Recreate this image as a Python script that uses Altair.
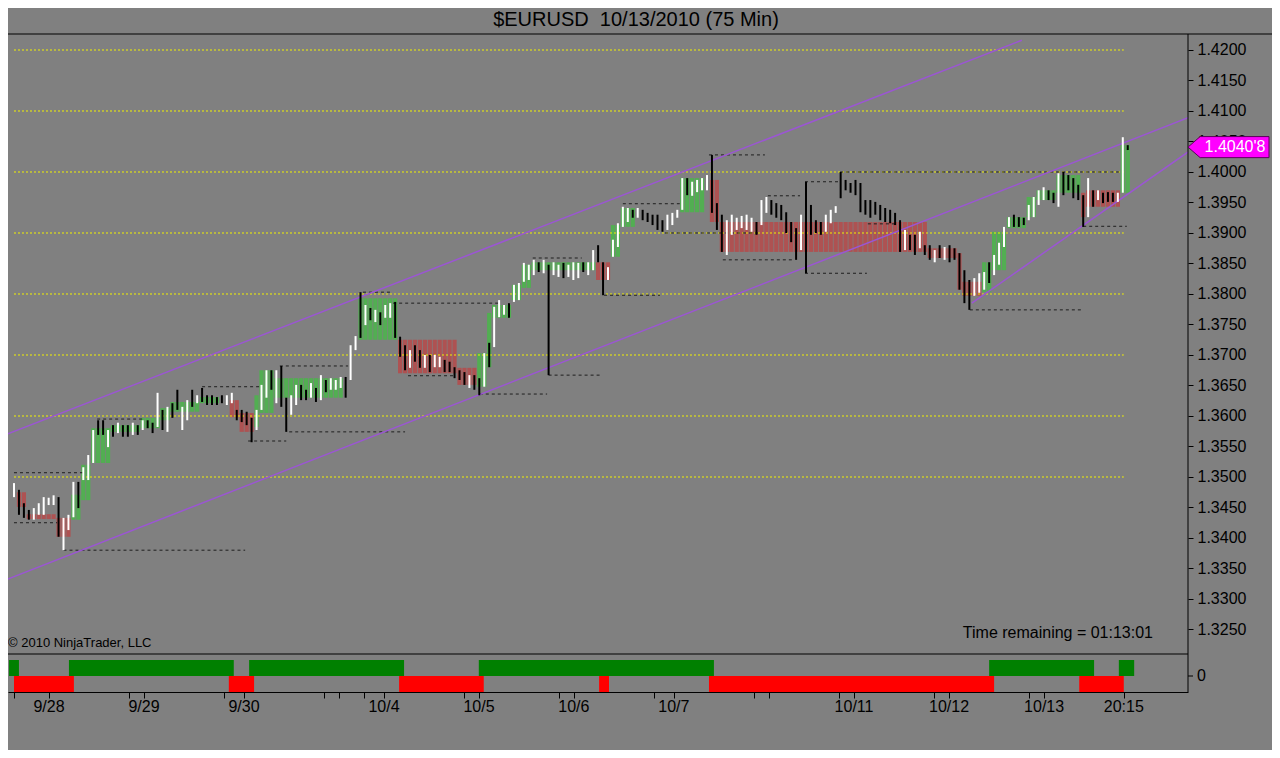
import altair as alt
import pandas as pd

FONT = "Liberation Sans"
TITLE = "$EURUSD\u00a0 10/13/2010 (75 Min)"

# ---- OHLC bars (75 min), one entry per bar ----
HIGH = [1.3490, 1.3479, 1.3457, 1.3446, 1.3449, 1.3457, 1.3467, 1.3466, 1.3470, 1.3467,
        1.3433, 1.3438, 1.3492, 1.3492, 1.3516, 1.3536, 1.3577, 1.3593, 1.3593, 1.3577,
        1.3585, 1.3589, 1.3585, 1.3585, 1.3589, 1.3585, 1.3593, 1.3593, 1.3589, 1.3638,
        1.3610, 1.3615, 1.3621, 1.3643, 1.3615, 1.3626, 1.3643, 1.3634, 1.3646, 1.3634,
        1.3634, 1.3631, 1.3634, 1.3634, 1.3638, 1.3610, 1.3610, 1.3607, 1.3597, 1.3610,
        1.3651, 1.3675, 1.3675, 1.3675, 1.3682, 1.3630, 1.3634, 1.3651, 1.3651, 1.3643,
        1.3654, 1.3646, 1.3667, 1.3659, 1.3662, 1.3659, 1.3664, 1.3664, 1.3716, 1.3731,
        1.3803, 1.3782, 1.3777, 1.3774, 1.3770, 1.3782, 1.3785, 1.3787, 1.3730, 1.3716,
        1.3708, 1.3716, 1.3708, 1.3700, 1.3700, 1.3700, 1.3697, 1.3692, 1.3689, 1.3680,
        1.3675, 1.3672, 1.3667, 1.3667, 1.3662, 1.3703, 1.3720, 1.3779, 1.3790, 1.3782,
        1.3785, 1.3815, 1.3818, 1.3851, 1.3848, 1.3856, 1.3852, 1.3856, 1.3848, 1.3852,
        1.3848, 1.3851, 1.3848, 1.3852, 1.3851, 1.3852, 1.3852, 1.3872, 1.3880, 1.3852,
        1.3844, 1.3889, 1.3916, 1.3943, 1.3941, 1.3938, 1.3941, 1.3938, 1.3933, 1.3930,
        1.3930, 1.3921, 1.3930, 1.3933, 1.3938, 1.3990, 1.3990, 1.3984, 1.3987, 1.3990,
        1.3995, 1.4028, 1.3949, 1.3930, 1.3921, 1.3930, 1.3925, 1.3928, 1.3930, 1.3925,
        1.3918, 1.3954, 1.3959, 1.3954, 1.3949, 1.3946, 1.3934, 1.3918, 1.3908, 1.3930,
        1.3984, 1.3946, 1.3921, 1.3918, 1.3930, 1.3938, 1.3944, 1.4000, 1.3987, 1.3982,
        1.3987, 1.3982, 1.3954, 1.3954, 1.3951, 1.3946, 1.3941, 1.3938, 1.3933, 1.3921,
        1.3905, 1.3897, 1.3897, 1.3902, 1.3880, 1.3880, 1.3872, 1.3880, 1.3877, 1.3880,
        1.3875, 1.3867, 1.3839, 1.3823, 1.3826, 1.3834, 1.3836, 1.3852, 1.3864, 1.3884,
        1.3910, 1.3926, 1.3930, 1.3926, 1.3925, 1.3946, 1.3959, 1.3970, 1.3975, 1.3970,
        1.3966, 1.3998, 1.4000, 1.3995, 1.3990, 1.3979, 1.3962, 1.3990, 1.3970, 1.3970,
        1.3966, 1.3967, 1.3966, 1.3966, 1.4057, 1.4044]
LOW = [1.3467, 1.3438, 1.3433, 1.3430, 1.3430, 1.3438, 1.3438, 1.3454, 1.3454, 1.3402,
       1.3380, 1.3413, 1.3434, 1.3449, 1.3495, 1.3495, 1.3523, 1.3569, 1.3569, 1.3549,
       1.3566, 1.3572, 1.3566, 1.3566, 1.3569, 1.3569, 1.3577, 1.3580, 1.3572, 1.3582,
       1.3577, 1.3574, 1.3597, 1.3610, 1.3577, 1.3593, 1.3615, 1.3621, 1.3623, 1.3618,
       1.3618, 1.3618, 1.3621, 1.3618, 1.3621, 1.3593, 1.3590, 1.3585, 1.3557, 1.3577,
       1.3610, 1.3630, 1.3643, 1.3621, 1.3615, 1.3574, 1.3602, 1.3618, 1.3626, 1.3626,
       1.3630, 1.3623, 1.3626, 1.3639, 1.3643, 1.3643, 1.3646, 1.3630, 1.3659, 1.3708,
       1.3728, 1.3749, 1.3757, 1.3754, 1.3749, 1.3761, 1.3761, 1.3728, 1.3697, 1.3675,
       1.3679, 1.3689, 1.3679, 1.3679, 1.3672, 1.3680, 1.3680, 1.3672, 1.3672, 1.3662,
       1.3659, 1.3651, 1.3646, 1.3643, 1.3634, 1.3648, 1.3680, 1.3713, 1.3762, 1.3766,
       1.3761, 1.3787, 1.3790, 1.3820, 1.3823, 1.3831, 1.3836, 1.3834, 1.3667, 1.3831,
       1.3828, 1.3826, 1.3828, 1.3823, 1.3826, 1.3836, 1.3831, 1.3839, 1.3852, 1.3798,
       1.3823, 1.3861, 1.3877, 1.3910, 1.3918, 1.3925, 1.3925, 1.3921, 1.3918, 1.3913,
       1.3905, 1.3902, 1.3905, 1.3913, 1.3925, 1.3938, 1.3962, 1.3961, 1.3967, 1.3970,
       1.3970, 1.3933, 1.3905, 1.3869, 1.3864, 1.3897, 1.3905, 1.3908, 1.3905, 1.3902,
       1.3897, 1.3913, 1.3933, 1.3930, 1.3925, 1.3921, 1.3900, 1.3885, 1.3856, 1.3872,
       1.3834, 1.3897, 1.3900, 1.3897, 1.3902, 1.3916, 1.3933, 1.3957, 1.3970, 1.3966,
       1.3962, 1.3934, 1.3930, 1.3925, 1.3930, 1.3921, 1.3918, 1.3916, 1.3913, 1.3869,
       1.3872, 1.3872, 1.3864, 1.3875, 1.3864, 1.3856, 1.3852, 1.3859, 1.3856, 1.3852,
       1.3856, 1.3807, 1.3785, 1.3774, 1.3797, 1.3802, 1.3807, 1.3818, 1.3831, 1.3848,
       1.3877, 1.3910, 1.3910, 1.3910, 1.3913, 1.3921, 1.3926, 1.3946, 1.3954, 1.3954,
       1.3949, 1.3943, 1.3962, 1.3970, 1.3957, 1.3954, 1.3910, 1.3926, 1.3943, 1.3954,
       1.3949, 1.3951, 1.3951, 1.3951, 1.3966, 1.4036]
DIRECTION = ("u d d d u u u u u d  u u u d u u u d d u  d u d d u d u d d u  "
             "d u d d u u d u d d  d d d u u d d d d u  u u d u d d u u d d  "
             "u d u d u u u d u u  d u d u d u u d d d  u d d u d u u d d d  "
             "d d u d d u d u u u  d u u u u u d u d u  u d u u u d u u d d  "
             "u u u u u d u d d d  d d u u u u d u u u  u d d d u u u u u u  "
             "d u u d d d d d d u  d d d d u u u d d d  d d d d d d d d d d  "
             "u d d u d d u d u d  d d d d u u u d u u  u u d d d u u u u d  "
             "d u d d d d d u d u  d d d u u d").split()

# ---- shaded trend boxes (bar ranges) ----
BOX_START = [1, 3, 9, 12, 14, 16, 20, 26, 30, 32, 38, 44, 46, 49, 50, 53, 70, 78, 90, 94,
             96, 97, 101, 103, 105, 118, 121, 123, 135, 141, 143, 185, 191, 192, 196, 198,
             201, 205, 207, 211, 216, 217, 224]
BOX_END = [2, 8, 11, 13, 15, 19, 25, 29, 31, 37, 41, 45, 48, 49, 52, 66, 77, 89, 93, 95,
           96, 100, 102, 104, 117, 120, 122, 125, 139, 142, 184, 190, 191, 195, 197, 200,
           204, 206, 210, 215, 216, 223, 225]
BOX_TOP = [1.3475, 1.3439, 1.3433, 1.3471, 1.3520, 1.3580, 1.3585, 1.3597, 1.3613, 1.3623,
           1.3631, 1.3626, 1.3605, 1.3634, 1.3675, 1.3662, 1.3793, 1.3725, 1.3679, 1.3703,
           1.3769, 1.3782, 1.3815, 1.3848, 1.3852, 1.3852, 1.3913, 1.3941, 1.3990, 1.3987,
           1.3918, 1.3875, 1.3867, 1.3820, 1.3852, 1.3902, 1.3926, 1.3959, 1.3970, 1.3995,
           1.3966, 1.3970, 1.4044]
BOX_BOTTOM = [1.3451, 1.3431, 1.3402, 1.3430, 1.3462, 1.3523, 1.3574, 1.3580, 1.3593, 1.3607,
              1.3621, 1.3598, 1.3574, 1.3582, 1.3605, 1.3630, 1.3725, 1.3670, 1.3651, 1.3648,
              1.3680, 1.3761, 1.3790, 1.3810, 1.3839, 1.3823, 1.3861, 1.3910, 1.3934, 1.3918,
              1.3869, 1.3859, 1.3807, 1.3797, 1.3803, 1.3839, 1.3908, 1.3926, 1.3954, 1.3966,
              1.3926, 1.3943, 1.3966]
BOX_KIND = ["R", "R", "R", "G", "G", "G", "G", "G", "G", "G", "G", "R", "R", "G", "G", "G",
            "G", "R", "R", "G", "G", "G", "G", "G", "G", "R", "G", "G", "G", "R", "R", "R",
            "R", "R", "G", "G", "G", "G", "G", "G", "R", "R", "G"]

# ---- swing high / low dashed lines ----
SWING_START = [0, 0, 10, 16.8, 38, 47.3, 53.7, 55.6, 70.5, 76.6, 79.6, 94.1, 104.8, 108,
               119.2, 123, 131.5, 140.4, 143.2, 152.3, 159.8, 166.9, 159.8, 172.5, 193.1, 216]
SWING_END = [14, 8.7, 46.7, 26, 50, 55, 67.5, 79, 76.4, 98.2, 89, 107.7, 114.7, 118.4,
             130.5, 134.5, 150.7, 151.7, 157.2, 158.8, 166.5, 223.8, 172.3, 178.4, 215.8, 224.8]
SWING_PRICE = [1.3507, 1.3425, 1.3380, 1.3595, 1.3648, 1.3559, 1.3682, 1.3574, 1.3803,
               1.3785, 1.3666, 1.3636, 1.3859, 1.3667, 1.3798, 1.3948, 1.3900, 1.4028,
               1.3856, 1.3961, 1.3984, 1.4000, 1.3834, 1.3915, 1.3774, 1.3911]

# ---- yellow round-number levels ----
LEVELS = [1.35, 1.36, 1.37, 1.38, 1.39, 1.40, 1.41, 1.42]
LEVEL_START = 0
LEVEL_END = 224.2

# ---- purple channel lines (two anchor points each) ----
CH_ID = ["a", "a", "b", "b", "c", "c"]
CH_BAR = [-1.8, 203.6, -1.8, 237.2, 193.5, 237.2]
CH_PRICE = [1.3569, 1.4216, 1.3331, 1.4089, 1.3785, 1.4033]

# ---- lower indicator panel segments ----
GREEN_START = [-1.0, 11.1, 47.5, 93.9, 197.0, 223.2]
GREEN_END = [1.0, 44.4, 78.8, 141.4, 218.2, 226.3]
RED_START = [0.0, 43.4, 77.8, 118.2, 140.4, 215.2]
RED_END = [12.1, 48.5, 94.9, 120.2, 198.0, 224.2]

# ---- axes ----
PRICE_TICKS = [1.3250, 1.3300, 1.3350, 1.3400, 1.3450, 1.3500, 1.3550, 1.3600, 1.3650, 1.3700,
               1.3750, 1.3800, 1.3850, 1.3900, 1.3950, 1.4000, 1.4050, 1.4100, 1.4150, 1.4200]
TICK_BARS = [0, 7.07, 23.23, 26.26, 42.42, 46.46, 62.63, 65.66, 70.71, 74.75, 90.91, 93.94,
             110.1, 113.1, 129.3, 133.3, 149.5, 152.5, 166.7, 169.7, 185.9, 188.9, 205.1,
             208.1, 224.2]
LABEL_BARS = [7.07, 26.26, 46.46, 74.75, 93.94, 113.1, 133.3, 169.7, 188.9, 208.1, 224.2]
LABEL_TEXT = ["9/28", "9/29", "9/30", "10/4", "10/5", "10/6", "10/7", "10/11", "10/12",
              "10/13", "20:15"]
LAST_PRICE = 1.40408
LAST_LABEL = "1.4040'8"

W, H = 1180, 657
MAIN_H = 619

xs = alt.Scale(domain=[-1.2121, 237.172], nice=False, zero=False)
ys = alt.Scale(domain=[1.3209836, 1.4224590], range=[MAIN_H, 0], nice=False, zero=False)
ind_s = alt.Scale(domain=[-1, 1], range=[H, 625], nice=False, zero=False)
X_AXIS = alt.Axis(values=TICK_BARS, labels=False, title=None, grid=False, tickSize=6,
                  tickColor="black", domainColor="black", orient="bottom")


def X(field):
    return alt.X(field, type="quantitative", scale=xs, axis=X_AXIS)


def Y(field, axis=None):
    return alt.Y(field, type="quantitative", scale=ys, axis=axis)


# tables
bars = pd.DataFrame({"bar": list(range(len(HIGH))), "high": HIGH, "low": LOW, "dir": DIRECTION})
rows = []
for s, e, t, b, k in zip(BOX_START, BOX_END, BOX_TOP, BOX_BOTTOM, BOX_KIND):
    for i in range(s, e + 1):
        rows.append({"x0": i - 0.43, "x1": i + 0.43, "top": t, "bottom": b, "kind": k})
boxes = pd.DataFrame(rows)
swings = pd.DataFrame({"start": SWING_START, "end": SWING_END, "price": SWING_PRICE})
levels = pd.DataFrame({"start": LEVEL_START, "end": LEVEL_END, "price": LEVELS})
chan = pd.DataFrame({"id": CH_ID, "bar": CH_BAR, "price": CH_PRICE})
green = pd.DataFrame({"start": GREEN_START, "end": GREEN_END, "v0": 0, "v1": 1})
red = pd.DataFrame({"start": RED_START, "end": RED_END, "v0": -1, "v1": 0})
xlab = pd.DataFrame({"bar": LABEL_BARS, "label": LABEL_TEXT})
last = pd.DataFrame({"price": [LAST_PRICE], "label": [LAST_LABEL]})
zero = pd.DataFrame({"v": [0], "label": ["0"]})
one = pd.DataFrame({"k": [0]})

layers = []
for kind, col in [("G", "#00ff00"), ("R", "#ff0000")]:
    layers.append(
        alt.Chart(boxes[boxes.kind == kind]).mark_rect(color=col, opacity=0.36, clip=True)
        .encode(x=X("x0"), x2="x1", y=Y("top"), y2="bottom"))

layers.append(
    alt.Chart(levels).mark_rule(color="#f2f200", strokeDash=[2, 2], strokeWidth=1)
    .encode(x=X("start"), x2="end",
            y=Y("price", axis=alt.Axis(orient="right", values=PRICE_TICKS, format=".4f",
                                       tickSize=5, tickColor="black", labelColor="black",
                                       labelFont=FONT, labelFontSize=16, labelPadding=4,
                                       domain=False, grid=False, title=None,
                                       labelOverlap=False, labelBound=False, labelFlush=False))))

layers.append(
    alt.Chart(swings).mark_rule(color="#1e1e1e", strokeDash=[3, 3], strokeWidth=1)
    .encode(x=X("start"), x2="end", y=Y("price")))

layers.append(
    alt.Chart(chan).mark_line(color="#9b55d4", strokeWidth=1.5, clip=True)
    .encode(x=X("bar"), y=Y("price"), detail="id"))

for d, col in [("u", "#ffffff"), ("d", "#000000")]:
    layers.append(
        alt.Chart(bars[bars.dir == d]).mark_rule(color=col, strokeWidth=2)
        .encode(x=X("bar"), y=Y("low"), y2="high"))

# indicator panel
layers.append(
    alt.Chart(green).mark_rect(color="#008000")
    .encode(x=X("start"), x2="end", y=alt.Y("v0:Q", scale=ind_s, axis=None), y2="v1"))
layers.append(
    alt.Chart(red).mark_rect(color="#ff0000")
    .encode(x=X("start"), x2="end", y=alt.Y("v0:Q", scale=ind_s, axis=None), y2="v1"))
layers.append(
    alt.Chart(zero).mark_rule(color="black")
    .encode(x=alt.value(W), x2=alt.value(W + 5), y=alt.Y("v:Q", scale=ind_s, axis=None)))
layers.append(
    alt.Chart(zero).mark_text(font=FONT, fontSize=16, color="black", align="left", baseline="middle")
    .encode(x=alt.value(W + 9), y=alt.Y("v:Q", scale=ind_s, axis=None), text="label:N"))

# frame lines
layers.append(alt.Chart(one).mark_rule(color="black")
              .encode(x=alt.value(0), x2=alt.value(1264), y=alt.value(-1)))
layers.append(alt.Chart(one).mark_rule(color="black")
              .encode(x=alt.value(0), x2=alt.value(W), y=alt.value(MAIN_H)))
layers.append(alt.Chart(one).mark_rule(color="black")
              .encode(x=alt.value(W), y=alt.value(-1), y2=alt.value(H)))

# last price marker
MARKER = "M -1 0 L -0.70 -0.26 L 1 -0.26 L 1 0.26 L -0.70 0.26 Z"
layers.append(
    alt.Chart(last).mark_point(shape=MARKER, size=6561, filled=True, fill="#ff00ff",
                               stroke="#5a005a", strokeWidth=1, opacity=1)
    .encode(x=alt.value(W + 40.5), y=Y("price")))
layers.append(
    alt.Chart(last).mark_text(font=FONT, fontSize=16, color="white", align="center", baseline="middle")
    .encode(x=alt.value(W + 47), y=Y("price"), text="label:N"))

# x labels
layers.append(
    alt.Chart(xlab).mark_text(font=FONT, fontSize=16, color="black", align="center", baseline="middle")
    .encode(x=X("bar"), y=alt.value(H + 15), text="label:N"))

# annotations
layers.append(
    alt.Chart(pd.DataFrame({"t": ["\u00a9 2010 NinjaTrader, LLC"]}))
    .mark_text(font=FONT, fontSize=13, color="black", align="left", baseline="middle")
    .encode(x=alt.value(0), y=alt.value(608), text="t:N"))
layers.append(
    alt.Chart(pd.DataFrame({"t": ["Time remaining = 01:13:01"]}))
    .mark_text(font=FONT, fontSize=16, color="black", align="right", baseline="middle")
    .encode(x=alt.value(1145), y=alt.value(598), text="t:N"))

chart = (
    alt.layer(*layers)
    .resolve_scale(y="independent")
    .properties(
        width=W, height=H,
        title=alt.TitleParams(TITLE, anchor="middle", dx=38, offset=4, fontSize=20,
                              fontWeight="normal", font=FONT, color="black"),
        autosize=alt.AutoSizeParams(type="none"),
        padding={"left": 0, "top": 27, "right": 84, "bottom": 58},
    )
    .configure(background="#808080")
    .configure_view(strokeWidth=0)
)

chart.save("out.html", embed_options={"renderer": "svg", "actions": False})
